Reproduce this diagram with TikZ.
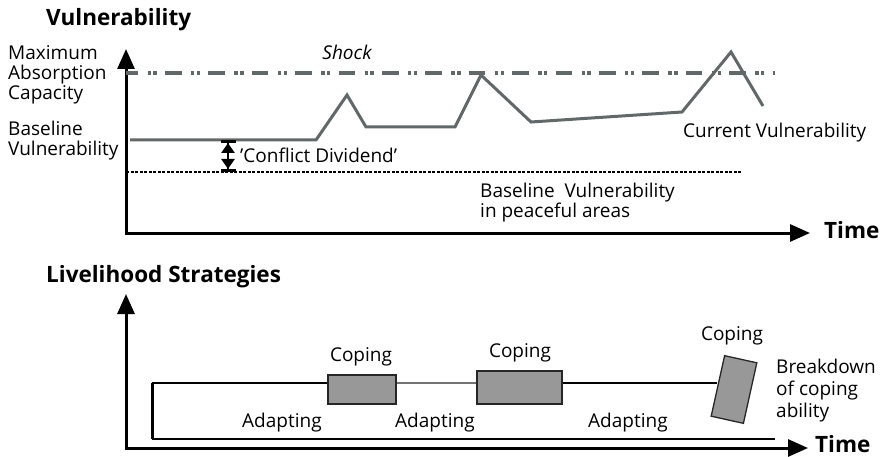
\documentclass[tikz,border=0pt]{standalone}
\usepackage{fontspec}
\setmainfont{Open Sans}
\usetikzlibrary{arrows.meta}
\definecolor{curvegray}{RGB}{98,104,104}
\definecolor{boxgray}{RGB}{152,152,152}
\begin{document}
\begin{tikzpicture}[x=1pt,y=-1pt,
    axis/.style={line width=3pt,{Triangle[length=20pt,width=17pt]}-{Triangle[length=20pt,width=17pt]}},
    lbl/.style={font=\fontsize{19}{20}\selectfont,inner sep=0pt,align=left},
    ttl/.style={font=\fontsize{22.5}{24}\selectfont\bfseries,inner sep=0pt},
    curve/.style={draw=curvegray,line width=3pt,line join=miter},
    copebox/.style={draw=black!85,fill=boxgray,line width=1.3pt,inner sep=0pt}]
\useasboundingbox (0,0) rectangle (891,457);
% vulnerability panel
\node[ttl,anchor=base west] (vtitle) at (46,26) {Vulnerability};
\coordinate (vtop) at (126,49);
\coordinate (vcorner) at (126,233);
\coordinate (vright) at (810,233);
\draw[axis] (vtop) -- (vcorner) -- (vright);
\node[ttl,anchor=base west] (vtime) at (824,238) {Time};
\coordinate (maxl) at (126,73);
\coordinate (maxr) at (775,73);
\draw[curvegray,line width=3.5pt,dash pattern=on 16.5pt off 9.5pt on 3.3pt off 2.5pt on 3.3pt off 8.3pt,dash phase=4.4pt] (maxl) -- (maxr);
\node[lbl,anchor=base west] (maxcap) at (8,100) {Maximum\\Absorption\\Capacity};
\node[lbl,anchor=base,font=\fontsize{19}{20}\selectfont\itshape] (shock) at (347,60) {Shock};
\node[lbl,anchor=base west] (basev) at (8,156) {Baseline\\Vulnerability};
\draw[curve] (130,140) -- (316,140) -- (347,95) -- (366,127) -- (455,127) -- (481,75)
    -- (531,122) -- (682,112) -- (731,52) -- (763,106);
\node[lbl,anchor=base west] (currv) at (683,138) {Current Vulnerability};
\coordinate (peacel) at (126,172);
\coordinate (peacer) at (742,172);
\draw[line width=2.4pt,dash pattern=on 3.4pt off 1.1pt] (peacel) -- (peacer);
\node[lbl,anchor=base west] (peacev) at (480,217) {Baseline\ \ Vulnerability\\in peaceful areas};
\coordinate (divtop) at (228,140);
\coordinate (divbot) at (228,172);
\draw[line width=2.6pt,{Bar[width=15pt,line width=3pt]Triangle[length=10pt,width=13pt]}-{Triangle[length=10pt,width=13pt]Bar[width=15pt,line width=3pt]}] (divtop) -- (divbot);
\node[lbl,anchor=base west] (divid) at (240,163) {'Conflict Dividend'};
% livelihood panel
\node[ttl,anchor=base west] (ltitle) at (46,282) {Livelihood Strategies};
\coordinate (ltop) at (126,294);
\coordinate (lcorner) at (126,448);
\coordinate (lright) at (808,448);
\draw[axis] (ltop) -- (lcorner) -- (lright);
\node[ttl,anchor=base west] (ltime) at (815,452) {Time};
\node[copebox,minimum width=68pt,minimum height=29pt] (cope1) at (362,389.5) {};
\node[copebox,minimum width=85pt,minimum height=33pt] (cope2) at (519.5,387.5) {};
\node[copebox,minimum width=33pt,minimum height=62pt,rotate=-12.5] (cope3) at (734,389.5) {};
\coordinate (lvl) at (152,383);
\coordinate (lbot) at (152,439);
\coordinate (lbotr) at (775,439);
\draw[line width=3pt] (lvl) -- (lbot);
\draw[line width=1.5pt] (lbot) -- (lbotr);
\draw[line width=1.2pt] (lvl) -- (cope1.west |- lvl);
\draw[line width=1.2pt,black!55] (cope1.east |- lvl) -- (cope2.west |- lvl);
\draw[line width=1.2pt] (cope2.east |- lvl) -- (cope3.west |- lvl);
\node[lbl,anchor=base] (coplbl1) at (361,361) {Coping};
\node[lbl,anchor=base] (coplbl2) at (520,357) {Coping};
\node[lbl,anchor=base] (coplbl3) at (732,340) {Coping};
\node[lbl,anchor=base west] (adapt1) at (242,427) {Adapting};
\node[lbl,anchor=base west] (adapt2) at (395,427) {Adapting};
\node[lbl,anchor=base west] (adapt3) at (588,427) {Adapting};
\node[lbl,anchor=base west,font=\fontsize{19}{22}\selectfont] (brkdown) at (776,417) {Breakdown\\of coping\\ability};
\end{tikzpicture}
\end{document}
